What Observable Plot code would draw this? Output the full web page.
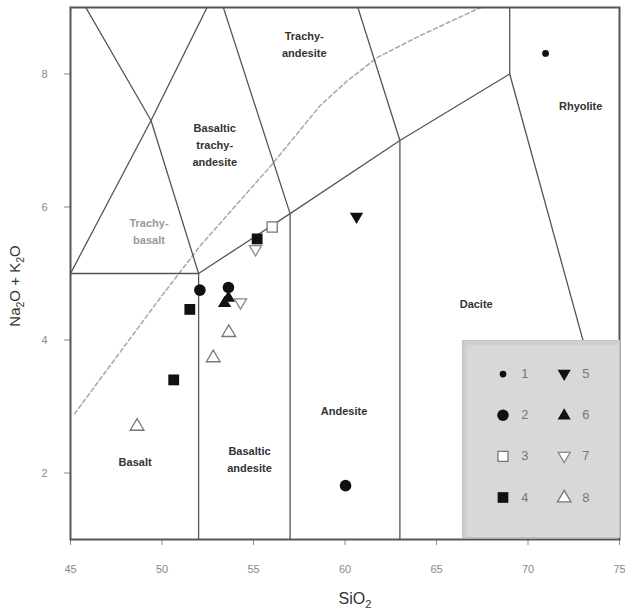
<!DOCTYPE html>
<html><head><meta charset="utf-8">
<script src="https://cdn.jsdelivr.net/npm/d3@7"></script>
<script src="https://cdn.jsdelivr.net/npm/@observablehq/plot@0.6"></script>
<style>
body{margin:0;background:#fff;font-family:Arial,"Liberation Sans",sans-serif;}
#wrap{position:relative;width:625px;height:613px;overflow:hidden;}
#ylab{position:absolute;left:16px;top:286px;transform:translate(-50%,-50%) rotate(-90deg);font-size:15px;color:#333;white-space:nowrap;}
#xlab{position:absolute;left:355px;top:600px;transform:translate(-50%,-50%);font-size:16px;color:#333;white-space:nowrap;}
sub{font-size:70%;}
#legend{position:absolute;left:462px;top:340px;width:158px;height:198px;background:#d8d8d8;border:1px solid #c2c2c2;box-sizing:border-box;box-shadow:inset 6px 6px 0 -2px #cfcfcf;}
#legend svg{position:absolute;left:0;top:0;}
</style></head><body>
<div id="wrap"><div id="ylab">Na<sub>2</sub>O + K<sub>2</sub>O</div><div id="xlab">SiO<sub>2</sub></div><div id="legend"></div></div>
<script>
// ---- data ----
const xTicks = [45, 50, 55, 60, 65, 70, 75];
const yTicks = [2, 4, 6, 8];

const sampleX    = [70.96, 60.63, 56.02, 55.20, 55.11, 52.07, 51.52, 53.63, 53.63, 53.42, 54.29, 53.65, 52.80, 50.64, 48.64, 60.03];
const sampleY    = [8.31, 5.85, 5.70, 5.52, 5.36, 4.75, 4.46, 4.79, 4.64, 4.56, 4.56, 4.12, 3.74, 3.40, 2.71, 1.81];
const sampleType = [1, 5, 3, 4, 7, 2, 4, 2, 6, 6, 7, 8, 8, 4, 8, 2];

const legendTypes = [1, 2, 3, 4, 5, 6, 7, 8];

// TAS field boundaries (SiO2, Na2O+K2O)
const fieldLines = [
  [[45, 5], [52, 5]],
  [[45, 5], [49.4, 7.3], [53, 9.3]],
  [[52, 5], [49.4, 7.3], [45, 9.4]],
  [[52, 0], [52, 5], [57, 5.9], [63, 7], [69, 8]],
  [[57, 0], [57, 5.9], [53, 9.3]],
  [[63, 0], [63, 7], [57.6, 11.7]],
  [[69, 8], [69, 13]],
  [[69, 8], [77, 0]]
];

// alkaline / subalkaline dividing curve
const curveX = [45.22, 49.92, 52.10, 56.04, 58.66, 60.14, 61.78, 64.13, 67.02, 67.6];
const curveY = [2.89, 4.64, 5.42, 6.65, 7.53, 7.90, 8.25, 8.58, 8.95, 9.02];

const regionNames = ["Trachy-\nandesite", "Basaltic\ntrachy-\nandesite", "Trachy-\nbasalt", "Rhyolite", "Dacite", "Andesite", "Basaltic\nandesite", "Basalt"];
const regionX = [57.77, 52.88, 49.29, 72.88, 67.17, 59.95, 54.78, 48.53];
const regionY = [8.47, 6.95, 5.65, 7.54, 4.56, 2.95, 2.22, 2.19];

// ---- build tables ----
const points = sampleX.map((x, i) => ({x, y: sampleY[i], type: sampleType[i]}));
const lineRows = fieldLines.flatMap((seg, k) => seg.map(([x, y]) => ({x, y, id: k})));
const curve = curveX.map((x, i) => ({x, y: curveY[i]}));
const regions = regionNames.map((t, i) => ({t, x: regionX[i], y: regionY[i], grey: i === 2}));

// ---- symbols ----
const tri = up => ({draw(ctx, size) {
  const r = Math.sqrt(size / Math.PI), s = up ? 1 : -1;
  ctx.moveTo(0, -s * r);
  ctx.lineTo(r * 0.95, s * r * 0.62);
  ctx.lineTo(-r * 0.95, s * r * 0.62);
  ctx.closePath();
}});
const sq = {draw(ctx, size) {
  const r = Math.sqrt(size / Math.PI) * 0.82;
  ctx.rect(-r, -r, 2 * r, 2 * r);
}};
const style = {
  1: {symbol: d3.symbolCircle, r: 3.4, fill: "#111", stroke: "none"},
  2: {symbol: d3.symbolCircle, r: 5.8, fill: "#111", stroke: "none"},
  3: {symbol: sq, r: 6.2, fill: "white", stroke: "#777"},
  4: {symbol: sq, r: 6.6, fill: "#111", stroke: "none"},
  5: {symbol: tri(false), r: 7, fill: "#111", stroke: "none"},
  6: {symbol: tri(true), r: 7, fill: "#111", stroke: "none"},
  7: {symbol: tri(false), r: 6.4, fill: "white", stroke: "#888"},
  8: {symbol: tri(true), r: 7.2, fill: "white", stroke: "#777"}
};
const dotsFor = (data, xk, yk) => legendTypes.map(t => {
  const s = style[t];
  return Plot.dot(data.filter(d => d.type === t), {x: xk, y: yk, symbol: s.symbol, r: s.r, fill: s.fill, stroke: s.stroke, strokeWidth: 1.3});
});

// ---- main chart ----
const chart = Plot.plot({
  width: 625, height: 613,
  marginLeft: 70, marginRight: 6, marginTop: 7, marginBottom: 74,
  style: {color: "#888", fontSize: "11px", fontFamily: "Arial, 'Liberation Sans', sans-serif", background: "white"},
  x: {domain: [45, 75], ticks: xTicks, tickSize: 6, tickPadding: 20, label: null},
  y: {domain: [1, 9], ticks: yTicks, tickSize: 6, tickPadding: 17, label: null},
  marks: [
    Plot.line(curve, {x: "x", y: "y", stroke: "#aaa", strokeWidth: 1.6, strokeDasharray: "4,3", clip: true}),
    Plot.line(lineRows, {x: "x", y: "y", z: "id", stroke: "#555", strokeWidth: 1.3, clip: true}),
    Plot.text(regions, {x: "x", y: "y", text: "t", fill: d => d.grey ? "#999" : "#333", fontSize: 11, lineHeight: 1.55, fontWeight: "bold"}),
    ...dotsFor(points, "x", "y"),
    Plot.frame({stroke: "#555", strokeWidth: 2})
  ]
});
document.getElementById("wrap").prepend(chart);

// ---- legend ----
const legendRows = legendTypes.map((t, i) => ({type: t, col: Math.floor(i / 4), row: i % 4, label: String(t)}));
const legend = Plot.plot({
  width: 158, height: 198, margin: 0,
  axis: null,
  style: {background: "transparent", fontFamily: "Arial, 'Liberation Sans', sans-serif"},
  x: {domain: [0, 1], range: [40, 102]},
  y: {domain: [0, 3], range: [33, 158]},
  marks: [
    ...dotsFor(legendRows, "col", "row"),
    Plot.text(legendRows, {x: "col", y: "row", text: "label", dx: 22, fill: "#777", fontSize: 13})
  ]
});
document.getElementById("legend").appendChild(legend);
</script>
</body></html>
